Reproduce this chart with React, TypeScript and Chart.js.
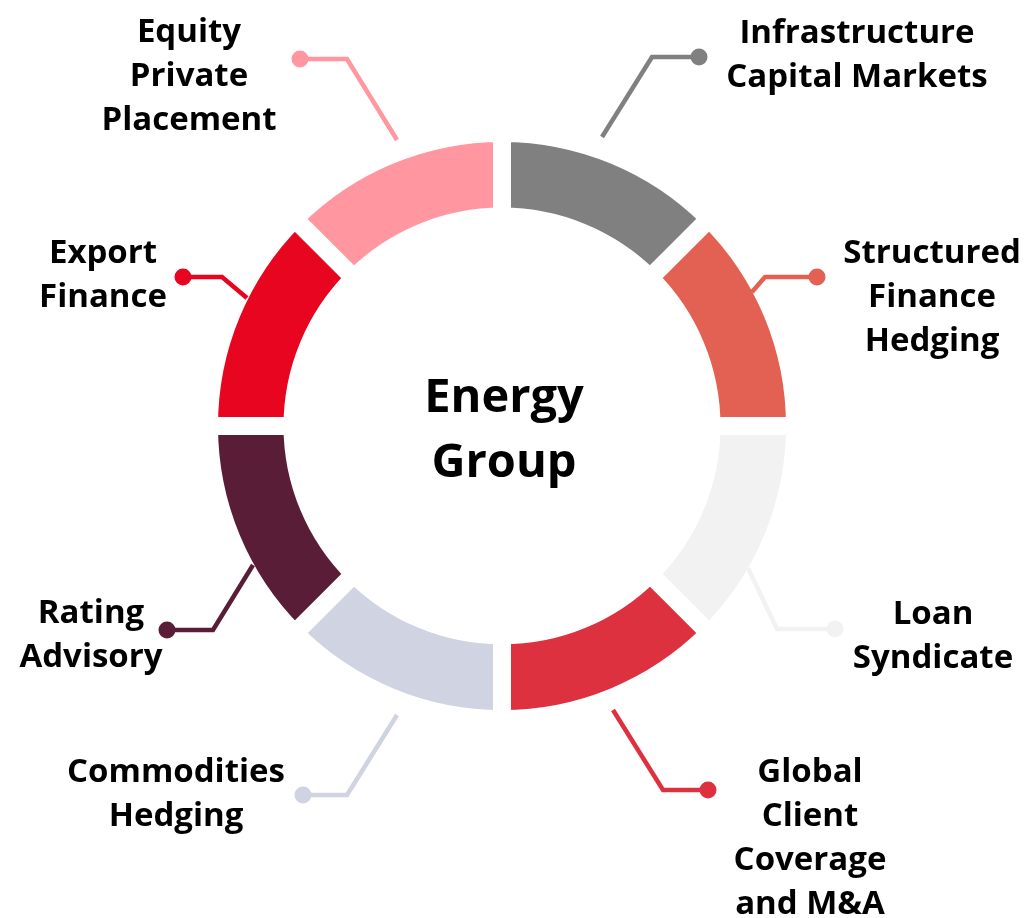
import React, { useEffect, useRef } from "react";
import { Chart, registerables } from "chart.js";

Chart.register(...registerables);

// ---- data ----
const categories: string[] = [
  "Infrastructure Capital Markets",
  "Structured Finance Hedging",
  "Loan Syndicate",
  "Global Client Coverage and M&A",
  "Commodities Hedging",
  "Rating Advisory",
  "Export Finance",
  "Equity Private Placement",
];
const labelLines: string[][] = [
  ["Infrastructure", "Capital Markets"],
  ["Structured", "Finance", "Hedging"],
  ["Loan", "Syndicate"],
  ["Global", "Client", "Coverage", "and M&A"],
  ["Commodities", "Hedging"],
  ["Rating", "Advisory"],
  ["Export", "Finance"],
  ["Equity", "Private", "Placement"],
];
const shares: number[] = [1, 1, 1, 1, 1, 1, 1, 1];
const segmentColors: string[] = [
  "#808080",
  "#E36152",
  "#F2F2F2",
  "#DE3140",
  "#CFD3E2",
  "#5A1D38",
  "#E80520",
  "#FF96A0",
];
const centerTitle: string[] = ["Energy", "Group"];

// ---- callout layout (offsets from the ring centre, px) ----
type Callout = { start: [number, number]; elbow: [number, number]; dot: [number, number]; text: [number, number] };
const callouts: Callout[] = [
  { start: [100, -289], elbow: [150, -369], dot: [197, -369], text: [355, -383] },
  { start: [250, -134], elbow: [263, -149], dot: [315, -149], text: [430, -163] },
  { start: [246, 142], elbow: [275, 203], dot: [333, 203], text: [431, 198] },
  { start: [111, 284], elbow: [161, 364], dot: [206, 364], text: [308, 356] },
  { start: [-105, 289], elbow: [-155, 369], dot: [-199, 369], text: [-326, 356] },
  { start: [-249, 139], elbow: [-289, 204], dot: [-335, 204], text: [-411, 197] },
  { start: [-255, -128], elbow: [-280, -149], dot: [-319, -149], text: [-399, -163] },
  { start: [-105, -286], elbow: [-155, -367], dot: [-202, -367], text: [-313, -384] },
];

const LABEL_FONT = 'bold 33px "Open Sans", sans-serif';
const TITLE_FONT = 'bold 47px "Open Sans", sans-serif';

const calloutPlugin = {
  id: "callouts",
  afterDatasetsDraw(chart: any) {
    const meta = chart.getDatasetMeta(0);
    const ctx: CanvasRenderingContext2D = chart.ctx;
    let cx = 0;
    let cy = 0;
    meta.data.forEach((arc: any, i: number) => {
      const { x, y } = arc.getProps(["x", "y"], true);
      cx = x;
      cy = y;
      const c = callouts[i];
      ctx.save();
      ctx.strokeStyle = segmentColors[i];
      ctx.fillStyle = segmentColors[i];
      ctx.lineWidth = 4.5;
      ctx.lineJoin = "miter";
      ctx.lineCap = "butt";
      ctx.beginPath();
      ctx.moveTo(x + c.start[0], y + c.start[1]);
      ctx.lineTo(x + c.elbow[0], y + c.elbow[1]);
      ctx.lineTo(x + c.dot[0], y + c.dot[1]);
      ctx.stroke();
      ctx.beginPath();
      ctx.arc(x + c.dot[0], y + c.dot[1], 8.5, 0, Math.PI * 2);
      ctx.fill();
      ctx.fillStyle = "#000";
      ctx.font = LABEL_FONT;
      ctx.textAlign = "center";
      ctx.textBaseline = "alphabetic";
      labelLines[i].forEach((t, k) => {
        ctx.fillText(t, x + c.text[0], y + c.text[1] + k * 44);
      });
      ctx.restore();
    });
    ctx.save();
    ctx.fillStyle = "#000";
    ctx.font = TITLE_FONT;
    ctx.textAlign = "center";
    ctx.textBaseline = "alphabetic";
    ctx.fillText(centerTitle[0], cx + 2, cy - 14);
    ctx.fillText(centerTitle[1], cx + 2, cy + 51);
    ctx.restore();
  },
};

export default function App() {
  const canvasRef = useRef<HTMLCanvasElement | null>(null);

  useEffect(() => {
    if (!canvasRef.current) return;
    const chart = new Chart(canvasRef.current, {
      type: "doughnut",
      data: {
        labels: categories,
        datasets: [
          {
            data: shares,
            backgroundColor: segmentColors,
            borderColor: "#ffffff",
            borderWidth: 18,
            hoverOffset: 0,
          },
        ],
      },
      options: {
        responsive: false,
        animation: false,
        events: [],
        radius: 293,
        cutout: "71.5%",
        layout: { padding: { left: 0, top: 0, right: 23, bottom: 66 } },
        plugins: {
          legend: { display: false },
          tooltip: { enabled: false },
        },
      } as any,
      plugins: [calloutPlugin],
    });
    return () => chart.destroy();
  }, []);

  return (
    <div style={{ position: "absolute", left: 0, top: 0, width: 1027, height: 918, background: "#fff" }}>
      <canvas ref={canvasRef} width={1027} height={918} style={{ display: "block" }} />
    </div>
  );
}
